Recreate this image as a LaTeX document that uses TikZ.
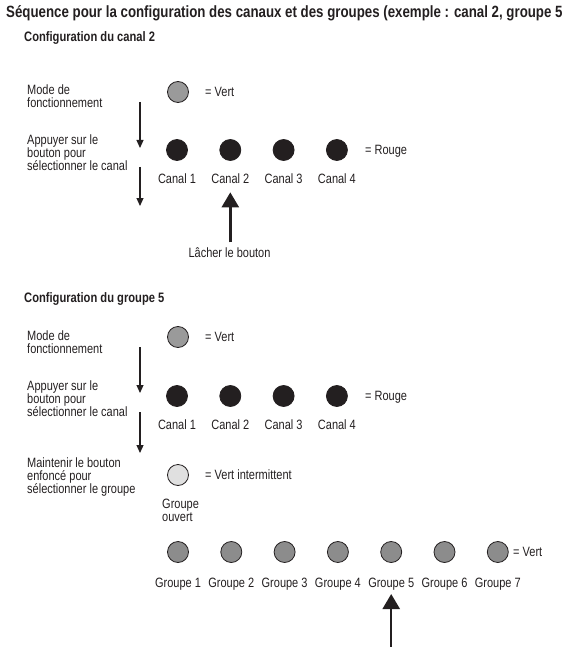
\documentclass[tikz,border=0pt]{standalone}
\usepackage{fontspec}
\setmainfont{Liberation Sans}[FakeStretch=0.815]
\usetikzlibrary{arrows.meta,positioning,calc}
\definecolor{ink}{HTML}{231F20}
\definecolor{vert}{HTML}{9A9A9A}
\definecolor{vertgr}{HTML}{8C8C8C}
\definecolor{clair}{HTML}{E0E0E0}
\tikzset{
  led/.style={circle,draw=ink,line width=0.8pt,minimum size=21pt,inner sep=0pt},
  ledv/.style={led,fill=vert},
  ledr/.style={led,fill=ink},
  ledc/.style={led,fill=clair},
  ledg/.style={led,fill=vertgr},
  txt/.style={align=left,anchor=base west,inner sep=0pt,font=\fontsize{13.5}{13}\selectfont},
  eq/.style={anchor=west,inner sep=0pt,font=\fontsize{13.5}{13}\selectfont},
  lbl/.style={anchor=base,inner sep=0pt,font=\fontsize{13.5}{13}\selectfont},
  ttl/.style={anchor=base west,inner sep=0pt,font=\bfseries\fontsize{16.3}{18}\selectfont},
  sttl/.style={ttl,font=\bfseries\fontsize{13.7}{15}\selectfont},
  ar/.style={-{Triangle[length=8pt,width=7pt]},line width=1.2pt,draw=ink},
  bigar/.style={-{Triangle[length=15pt,width=17pt]},line width=2.5pt,draw=ink},
}
\begin{document}
\begin{tikzpicture}[x=1pt,y=-1pt,node distance=31.5pt,color=ink]
\useasboundingbox (0,0) rectangle (564,647);
\node[ttl] (titre) at (6,18) {Séquence pour la configuration des canaux et des groupes (exemple : canal 2, groupe 5};

% configuration du canal
\node[sttl] (hc) at (24,42) {Configuration du canal 2};
\node[txt] (mc) at (27,108) {Mode de\\fonctionnement};
\node[ledv] (vc) at (178,92) {};
\node[eq] (vct) at (205,92) {= Vert};
\node[txt] (ac) at (27,171) {Appuyer sur le\\bouton pour\\sélectionner le canal};
\node[ledr] (c1) at (177,150) {};
\node[ledr,right=of c1] (c2) {};
\node[ledr,right=of c2] (c3) {};
\node[ledr,right=of c3] (c4) {};
\node[eq] (crt) at (365,151) {= Rouge};
\node[lbl] (c1t) at ($(c1)+(0,33)$) {Canal 1};
\node[lbl] (c2t) at ($(c2)+(0,33)$) {Canal 2};
\node[lbl] (c3t) at ($(c3)+(0,33)$) {Canal 3};
\node[lbl] (c4t) at ($(c4)+(0,33)$) {Canal 4};
\coordinate (ca1) at (140,102);
\coordinate (cb1) at (140,148);
\coordinate (ca2) at (140,167);
\coordinate (cb2) at (140,206);
\draw[ar] (ca1) -- (cb1);
\draw[ar] (ca2) -- (cb2);
\node[lbl] (lache) at (229.5,257) {Lâcher le bouton};
\coordinate (lb) at ($(c2t.south)+(0,59)$);
\draw[bigar] (lb) -- ($(c2t.south)+(0,9)$);

% configuration du groupe
\node[sttl] (hg) at (24,302) {Configuration du groupe 5};
\node[txt] (mg) at (27,353) {Mode de\\fonctionnement};
\node[ledv] (vg) at (178,337) {};
\node[eq] (vgt) at (205,337) {= Vert};
\node[txt] (ag) at (27,416) {Appuyer sur le\\bouton pour\\sélectionner le canal};
\node[ledr] (k1) at (177,396) {};
\node[ledr,right=of k1] (k2) {};
\node[ledr,right=of k2] (k3) {};
\node[ledr,right=of k3] (k4) {};
\node[eq] (krt) at (365,397) {= Rouge};
\node[lbl] (k1t) at ($(k1)+(0,33)$) {Canal 1};
\node[lbl] (k2t) at ($(k2)+(0,33)$) {Canal 2};
\node[lbl] (k3t) at ($(k3)+(0,33)$) {Canal 3};
\node[lbl] (k4t) at ($(k4)+(0,33)$) {Canal 4};
\coordinate (ga1) at (140,347);
\coordinate (gb1) at (140,393);
\coordinate (ga2) at (140,412);
\coordinate (gb2) at (140,453);
\draw[ar] (ga1) -- (gb1);
\draw[ar] (ga2) -- (gb2);
\node[txt] (mt) at (27,493) {Maintenir le bouton\\enfoncé pour\\sélectionner le groupe};
\node[ledc] (ouv) at (178,475) {};
\node[eq] (ouvt) at (205,475) {= Vert intermittent};
\node[txt] (ouvl) at (162,521) {Groupe\\ouvert};
\node[ledg] (g1) at (178,552) {};
\node[ledg,right=of g1] (g2) {};
\node[ledg,right=of g2] (g3) {};
\node[ledg,right=of g3] (g4) {};
\node[ledg,right=of g4] (g5) {};
\node[ledg,right=of g5] (g6) {};
\node[ledg,right=of g6] (g7) {};
\node[eq] (gvt) at (513,552) {= Vert};
\node[lbl] (g1t) at ($(g1)+(0,35)$) {Groupe 1};
\node[lbl] (g2t) at ($(g2)+(0,35)$) {Groupe 2};
\node[lbl] (g3t) at ($(g3)+(0,35)$) {Groupe 3};
\node[lbl] (g4t) at ($(g4)+(0,35)$) {Groupe 4};
\node[lbl] (g5t) at ($(g5)+(0,35)$) {Groupe 5};
\node[lbl] (g6t) at ($(g6)+(0,35)$) {Groupe 6};
\node[lbl] (g7t) at ($(g7)+(0,35)$) {Groupe 7};
\coordinate (bas) at (0,647);
\coordinate (gfin) at (g5t.south |- bas);
\draw[bigar] (gfin) -- ($(g5t.south)+(0,4)$);
\end{tikzpicture}
\end{document}
